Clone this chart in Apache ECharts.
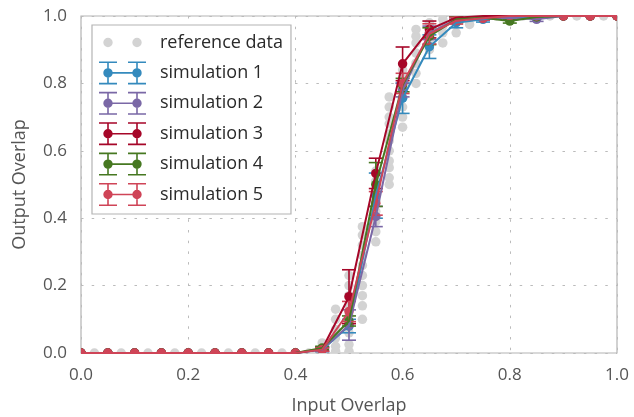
<!DOCTYPE html>
<html>
<head>
<meta charset="utf-8">
<script src="https://cdn.jsdelivr.net/npm/echarts@6/dist/echarts.min.js"></script>
<style>
  html, body { margin: 0; padding: 0; background: #fff; }
  #chart { width: 634px; height: 417px; }
</style>
</head>
<body>
<div id="chart"></div>
<script>
  // input overlap values where the simulations were run
  var simX = [0, 0.05, 0.1, 0.15, 0.2, 0.25, 0.3, 0.35, 0.4, 0.45, 0.5,
    0.55, 0.6, 0.65, 0.7, 0.75, 0.8, 0.85, 0.9, 0.95, 1.0]

  var sim1 = [0, 0, 0, 0, 0, 0, 0, 0, 0, 0.01, 0.08, 0.467, 0.756, 0.909, 0.98, 0.99, 0.995, 0.997, 1, 1, 1]
  var sim1Err = [0, 0, 0, 0, 0, 0, 0, 0, 0, 0.006, 0.02, 0.067, 0.045, 0.035, 0.015, 0.008, 0.004, 0, 0, 0, 0]
  var sim2 = [0, 0, 0, 0, 0, 0, 0, 0, 0, 0.01, 0.083, 0.405, 0.78, 0.95, 0.99, 0.993, 0.995, 0.99, 1, 1, 1]
  var sim2Err = [0, 0, 0, 0, 0, 0, 0, 0, 0, 0.005, 0.045, 0.03, 0.02, 0.02, 0.008, 0.005, 0.004, 0.006, 0, 0, 0]
  var sim3 = [0, 0, 0, 0, 0, 0, 0, 0, 0, 0.012, 0.167, 0.533, 0.858, 0.96, 0.995, 1, 1, 1, 1, 1, 1]
  var sim3Err = [0, 0, 0, 0, 0, 0, 0, 0, 0, 0.006, 0.08, 0.045, 0.05, 0.025, 0.005, 0, 0, 0, 0, 0, 0]
  var sim4 = [0, 0, 0, 0, 0, 0, 0, 0, 0, 0.015, 0.095, 0.5, 0.795, 0.94, 0.99, 0.995, 0.985, 0.997, 1, 1, 1]
  var sim4Err = [0, 0, 0, 0, 0, 0, 0, 0, 0, 0.005, 0.015, 0.065, 0.02, 0.025, 0.01, 0.005, 0.006, 0, 0, 0, 0]
  var sim5 = [0, 0, 0, 0, 0, 0, 0, 0, 0, 0.01, 0.123, 0.444, 0.8, 0.947, 0.986, 0.993, 1, 1, 1, 1, 1]
  var sim5Err = [0, 0, 0, 0, 0, 0, 0, 0, 0, 0.005, 0.03, 0.035, 0.03, 0.03, 0.01, 0.005, 0, 0, 0, 0, 0]

  var simNames = ['simulation 1', 'simulation 2', 'simulation 3', 'simulation 4', 'simulation 5']
  var simColors = ['#348abd', '#7a68a6', '#a60628', '#467821', '#cf4457']

  // reference data: one column of trials per input overlap
  var refX = [0, 0.025, 0.05, 0.075, 0.1, 0.125, 0.15, 0.175, 0.2, 0.225, 0.25, 0.275,
    0.3, 0.325, 0.35, 0.375, 0.4, 0.425, 0.45, 0.475, 0.5, 0.525, 0.55, 0.575,
    0.6, 0.625, 0.65, 0.675, 0.7, 0.725, 0.75, 0.775, 0.8, 0.825, 0.85, 0.875,
    0.9, 0.925, 0.95, 0.975, 1.0]
  var refY = [[0], [0], [0], [0], [0], [0], [0], [0], [0], [0], [0], [0],
    [0], [0], [0], [0], [0], [0],
    [0, 0.03],
    [0, 0.005, 0.02, 0.045, 0.07, 0.1, 0.13],
    [0, 0.005, 0.025, 0.06, 0.11, 0.14, 0.17, 0.2, 0.23],
    [0.1, 0.14, 0.17, 0.2, 0.23, 0.26, 0.29, 0.32, 0.35, 0.375],
    [0.33, 0.36, 0.39, 0.42, 0.45, 0.48, 0.51, 0.54],
    [0.5, 0.52, 0.55, 0.57, 0.6, 0.63, 0.65, 0.68, 0.7, 0.73, 0.76],
    [0.67, 0.7, 0.73, 0.76, 0.79, 0.82, 0.84],
    [0.8, 0.83, 0.86, 0.89, 0.92, 0.94, 0.96],
    [0.9, 0.93, 0.95, 0.97, 0.98],
    [0.92, 0.95, 0.97, 0.99],
    [0.95, 0.98, 1.0],
    [0.975, 1.0],
    [1], [1], [1], [1], [1], [1], [1], [1], [1], [1], [1]]

  var sims = [sim1, sim2, sim3, sim4, sim5]
  var simErrs = [sim1Err, sim2Err, sim3Err, sim4Err, sim5Err]

  var fontName = 'Open Sans'
  var dotR = 4.75

  function rect (x, y, w, h) {
    return 'M' + x + ' ' + y + ' h' + w + ' v' + h + ' h' + (-w) + ' Z '
  }
  function circle (cx, cy, r) {
    return 'M' + (cx - r) + ' ' + cy + ' a' + r + ' ' + r + ' 0 1 1 ' + (2 * r) + ' 0 a' +
      r + ' ' + r + ' 0 1 1 ' + (-2 * r) + ' 0 Z '
  }
  // legend icons, 47 x 23
  var errIcon = 'path://' +
    rect(0, 0, 18, 1.6) + rect(0, 21.4, 18, 1.6) + rect(29, 0, 18, 1.6) + rect(29, 21.4, 18, 1.6) +
    rect(8.2, 0, 1.6, 23) + rect(37.2, 0, 1.6, 23) + rect(9, 10.7, 29, 1.6) +
    circle(9, 11.5, 4.7) + circle(38, 11.5, 4.7)
  var refIcon = 'path://' +
    'M0 0 h0.01 Z M47 23 h-0.01 Z ' + circle(9, 11.5, 4.7) + circle(38, 11.5, 4.7)

  // dots drawn as custom items so they get cut at the plot edge
  function dotItem (color) {
    return function (params, api) {
      var p = api.coord([api.value(0), api.value(1)])
      return { type: 'circle', shape: { cx: p[0], cy: p[1], r: dotR }, style: { fill: color } }
    }
  }

  var refData = []
  refX.forEach(function (x, i) {
    refY[i].forEach(function (y) { refData.push([x, y]) })
  })

  var series = [{
    name: 'reference data',
    type: 'custom',
    clip: true,
    encode: { x: 0, y: 1 },
    itemStyle: { color: '#d3d3d3' },
    renderItem: dotItem('#d3d3d3'),
    data: refData,
  }]

  sims.forEach(function (vals, k) {
    var color = simColors[k]
    var pts = simX.map(function (x, i) { return [x, vals[i]] })
    var errPts = simX.map(function (x, i) { return [x, vals[i], simErrs[k][i]] })
    series.push({
      name: simNames[k] + ' line',
      type: 'line',
      symbol: 'none',
      clip: true,
      lineStyle: { color: color, width: 2 },
      itemStyle: { color: color },
      data: pts,
    })
    series.push({
      name: simNames[k] + ' err',
      type: 'custom',
      clip: true,
      encode: { x: 0, y: 1 },
      renderItem: function (params, api) {
        var x = api.value(0)
        var y = api.value(1)
        var e = api.value(2)
        if (!e) return null
        var lo = api.coord([x, y - e])
        var hi = api.coord([x, y + e])
        var hw = 7
        var st = { stroke: color, lineWidth: 1.6, fill: null }
        return {
          type: 'group',
          children: [
            { type: 'line', shape: { x1: lo[0], y1: lo[1], x2: hi[0], y2: hi[1] }, style: st },
            { type: 'line', shape: { x1: lo[0] - hw, y1: lo[1], x2: lo[0] + hw, y2: lo[1] }, style: st },
            { type: 'line', shape: { x1: hi[0] - hw, y1: hi[1], x2: hi[0] + hw, y2: hi[1] }, style: st },
          ],
        }
      },
      data: errPts,
    })
    series.push({
      name: simNames[k],
      type: 'custom',
      clip: true,
      encode: { x: 0, y: 1 },
      itemStyle: { color: color },
      renderItem: dotItem(color),
      data: pts,
    })
  })

  var legendData = [{ name: 'reference data', icon: refIcon, itemStyle: { color: '#d3d3d3' } }]
  simNames.forEach(function (n, k) {
    legendData.push({ name: n, icon: errIcon, itemStyle: { color: simColors[k] } })
  })

  var myChart = echarts.init(document.getElementById('chart'))
  var option = {
    animation: false,
    backgroundColor: '#fff',
    grid: {
      left: 81,
      right: 17,
      top: 16,
      bottom: 64,
      containLabel: false,
      outerBoundsMode: 'none',
      show: true,
      borderColor: '#b4b4b4',
      borderWidth: 1.2,
      backgroundColor: '#fff',
    },
    legend: {
      data: legendData,
      orient: 'vertical',
      left: 92,
      top: 25,
      itemWidth: 47,
      itemHeight: 23,
      itemGap: 7.4,
      padding: [6, 8, 8, 7],
      backgroundColor: '#fff',
      borderColor: '#b4b4b4',
      borderWidth: 1.2,
      borderRadius: 0,
      selectedMode: false,
      textStyle: {
        fontFamily: fontName,
        fontSize: 18,
        color: '#2a2a2a',
        padding: [0, 0, 0, 9],
      },
    },
    xAxis: {
      type: 'value',
      min: 0,
      max: 1,
      interval: 0.2,
      name: 'Input Overlap',
      nameLocation: 'middle',
      nameGap: 44,
      nameTextStyle: { fontFamily: fontName, fontSize: 18, color: '#555' },
      axisLine: { show: false },
      axisTick: { show: false },
      axisLabel: {
        margin: 14,
        fontFamily: fontName,
        fontSize: 17,
        color: '#555',
        formatter: function (v) { return v.toFixed(1) },
      },
      splitLine: { show: true, lineStyle: { color: '#bbb', width: 1, type: [2.5, 8.2] } },
    },
    yAxis: {
      type: 'value',
      min: 0,
      max: 1,
      interval: 0.2,
      name: 'Output Overlap',
      nameLocation: 'middle',
      nameGap: 52,
      nameTextStyle: { fontFamily: fontName, fontSize: 18, color: '#555' },
      axisLine: { show: false },
      axisTick: { show: false },
      axisLabel: {
        margin: 14,
        fontFamily: fontName,
        fontSize: 17,
        color: '#555',
        formatter: function (v) { return v.toFixed(1) },
      },
      splitLine: { show: true, lineStyle: { color: '#bbb', width: 1, type: [2.5, 8.2] } },
    },
    series: series,
  }
  myChart.setOption(option)
</script>
</body>
</html>
